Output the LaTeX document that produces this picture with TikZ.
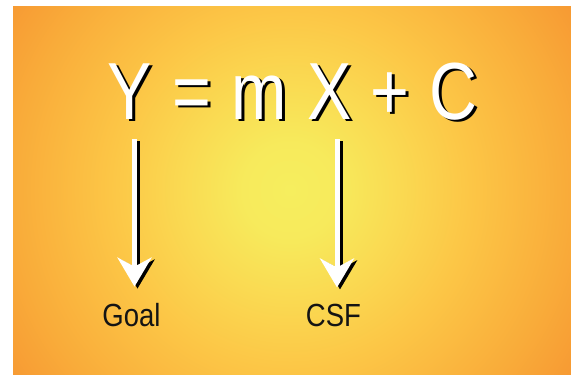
\documentclass[tikz,border=0pt]{standalone}
\usepackage{fontspec}
\setmainfont{Liberation Sans}
\usepackage{xcolor}
\usepackage{tikz}
\usetikzlibrary{arrows.meta}
\usetikzlibrary{calc}

\definecolor{glowcentre}{HTML}{F6EE5E}
\definecolor{glowinner}{HTML}{FADA52}
\definecolor{glowmid}{HTML}{FCC646}
\definecolor{glowouter}{HTML}{F9AC3A}
\definecolor{glowedge}{HTML}{F79A33}
\pgfdeclareradialshading{glow}{\pgfpoint{0bp}{0bp}}{color(0bp)=(glowcentre); color(4bp)=(glowcentre!80!glowinner); color(9bp)=(glowinner); color(15bp)=(glowmid); color(23bp)=(glowouter); color(28bp)=(glowedge); color(50bp)=(glowedge)}

% white symbol with a black drop shadow behind it
\newcommand{\dropshade}[1]{\makebox[0pt][l]{\kern3.6pt\raisebox{-2pt}{\color{black}#1}}\color{white}#1}

\begin{document}
\begin{tikzpicture}[x=1pt,y=1pt,
  bigsym/.style={font=\fontsize{81}{81}\selectfont, inner sep=0pt, anchor=base, xscale=.82},
  wordlbl/.style={font=\fontsize{32}{32}\selectfont, text=black!92, inner sep=0pt, anchor=base, xscale=.86},
  shaftwhite/.style={draw=white, line width=5pt, shorten <=17pt, shorten >=17pt,
    -{Stealth[length=29pt, width=34pt, inset=9pt, fill=white]}},
  shaftshade/.style={shaftwhite, draw=black, -{Stealth[length=29pt, width=34pt, inset=9pt, fill=black]}}]
\useasboundingbox (0,0) rectangle (571,375);

%background
\begin{scope}
\clip (13,0) rectangle (571,368);
\shade[shading=glow] (-10,-115) rectangle (590,485);
\end{scope}

%equation
\node[bigsym] (y) at (130,255) {\dropshade{Y}};
\node[bigsym] (eq) at (191.5,255) {\dropshade{=}};
\node[bigsym] (m) at (259.5,255) {\dropshade{m}};
\node[bigsym] (x) at (329.5,255) {\dropshade{X}};
\node[bigsym] (plus) at (389.5,255) {\dropshade{+}};
\node[bigsym] (c) at (453.5,255) {\dropshade{C}};

%labels
\node[wordlbl] (goal) at (131.5,48) {Goal};
\node[wordlbl] (csf) at (333.5,48) {CSF};

%arrows
\draw[shaftshade] ([xshift=7.5pt,yshift=-2pt]y.south) -- ([xshift=7.5pt,yshift=-2pt]y.south |- goal.north);
\draw[shaftwhite] ([xshift=4.5pt]y.south) -- ([xshift=4.5pt]y.south |- goal.north);
\draw[shaftshade] ([xshift=10.5pt,yshift=-2pt]x.south) -- ([xshift=10.5pt,yshift=-2pt]x.south |- csf.north);
\draw[shaftwhite] ([xshift=7.5pt]x.south) -- ([xshift=7.5pt]x.south |- csf.north);
\end{tikzpicture}
\end{document}
